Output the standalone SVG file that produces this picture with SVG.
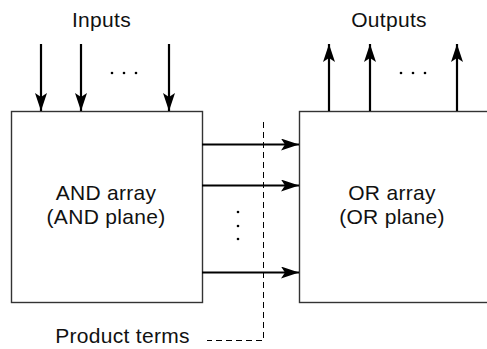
<svg xmlns="http://www.w3.org/2000/svg" width="487" height="349" viewBox="0 0 487 349">
<style>
text{font-family:"Liberation Sans",Arial,sans-serif;font-size:21px;letter-spacing:0.3px;fill:#111;text-anchor:middle}
.box{fill:#fff;stroke:#333;stroke-width:1.4}
.arr{stroke:#000;stroke-width:2.2;fill:none;marker-end:url(#ah)}
.dash{stroke:#000;stroke-width:1;fill:none;stroke-dasharray:6 4}
.dot{fill:#000}
</style>
<defs>
<marker id="ah" viewBox="0 0 18 12" refX="18" refY="6" markerWidth="18" markerHeight="12" markerUnits="userSpaceOnUse" orient="auto">
<path d="M0,0 L18,6 L0,12 L4,6 Z" fill="#000"/>
</marker>
</defs>
<g id="and-array">
<rect class="box" x="11.5" y="111.5" width="191" height="191"/>
<text x="106" y="200">AND array</text>
<text x="106" y="224">(AND plane)</text>
</g>
<g id="or-array">
<rect class="box" x="299.5" y="111.5" width="200" height="191"/>
<text x="392" y="200">OR array</text>
<text x="392" y="224">(OR plane)</text>
</g>
<g id="inputs">
<text x="101.5" y="27">Inputs</text>
<circle class="dot" cx="112" cy="73" r="1.3"/>
<circle class="dot" cx="124" cy="73" r="1.3"/>
<circle class="dot" cx="136" cy="73" r="1.3"/>
</g>
<g id="outputs">
<text x="389" y="27">Outputs</text>
<circle class="dot" cx="401" cy="73" r="1.3"/>
<circle class="dot" cx="413" cy="73" r="1.3"/>
<circle class="dot" cx="425" cy="73" r="1.3"/>
</g>
<g id="product-terms">
<text x="122.5" y="343">Product terms</text>
<circle class="dot" cx="238" cy="212" r="1.3"/>
<circle class="dot" cx="238" cy="226" r="1.3"/>
<circle class="dot" cx="238" cy="239" r="1.3"/>
</g>
<g id="connectors">
<line class="arr" x1="41" y1="44" x2="41" y2="111"/>
<line class="arr" x1="81" y1="44" x2="81" y2="111"/>
<line class="arr" x1="169" y1="44" x2="169" y2="111"/>
<line class="arr" x1="329" y1="111" x2="329" y2="44"/>
<line class="arr" x1="370" y1="111" x2="370" y2="44"/>
<line class="arr" x1="457" y1="111" x2="457" y2="44"/>
<line class="arr" x1="202" y1="144.5" x2="299" y2="144.5"/>
<line class="arr" x1="202" y1="185.5" x2="299" y2="185.5"/>
<line class="arr" x1="202" y1="272.5" x2="299" y2="272.5"/>
<polyline class="dash" points="263.5,122 263.5,340.5 207,340.5"/>
</g>
</svg>
